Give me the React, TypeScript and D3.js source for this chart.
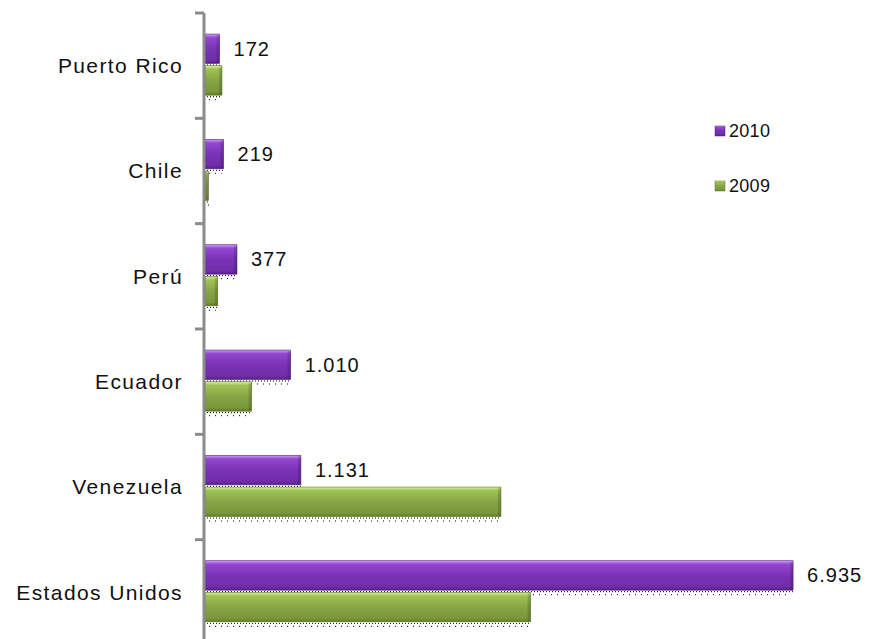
import React from "react";
import * as d3 from "d3";

const categories = ["Puerto Rico", "Chile", "Perú", "Ecuador", "Venezuela", "Estados Unidos"];
const seriesNames = ["2010", "2009"];
const values2010 = [172, 219, 377, 1010, 1131, 6935];
const values2009 = [200, 40, 150, 550, 3490, 3840];

const W = 870;
const H = 639;
const FONT = "'Liberation Sans', Arial, sans-serif";

const locale = d3.formatLocale({ decimal: ",", thousands: ".", grouping: [3], currency: ["", ""] });
const fmt = locale.format(",d");

export default function App() {
  const x = d3.scaleLinear().domain([0, 7000]).range([205, 798.6]);
  const y0 = d3.scaleBand<string>().domain(categories).range([13, 645]).paddingInner(0);
  const inner = d3
    .scaleBand<string>()
    .domain(seriesNames)
    .range([y0.bandwidth() * 0.2, y0.bandwidth() * 0.78])
    .paddingInner(0.07);
  const bh = inner.bandwidth();
  const seriesVals: Record<string, number[]> = { "2010": values2010, "2009": values2009 };
  const grads: Record<string, string> = { "2010": "url(#gPurple)", "2009": "url(#gGreen)" };
  const strokes: Record<string, string> = { "2010": "#55207f", "2009": "#5b7526" };
  const axisX = 204;
  const ticks = [...categories.map((c) => y0(c)!), 645];

  return (
    <svg width={W} height={H} style={{ position: "absolute", left: 0, top: 0, background: "#fff" }}>
      <defs>
        <linearGradient id="gPurple" x1="0" y1="0" x2="0" y2="1">
          <stop offset="0" stopColor="#d49cff" />
          <stop offset="0.12" stopColor="#9447d0" />
          <stop offset="0.5" stopColor="#7a32b6" />
          <stop offset="0.88" stopColor="#6f2ea8" />
          <stop offset="1" stopColor="#56208a" />
        </linearGradient>
        <linearGradient id="gGreen" x1="0" y1="0" x2="0" y2="1">
          <stop offset="0" stopColor="#d6f59a" />
          <stop offset="0.12" stopColor="#9fc255" />
          <stop offset="0.5" stopColor="#86a544" />
          <stop offset="0.88" stopColor="#7a983b" />
          <stop offset="1" stopColor="#5e7a28" />
        </linearGradient>
      </defs>

      {categories.map((c, i) =>
        seriesNames.map((s) => {
          const v = seriesVals[s][i];
          const yy = y0(c)! + inner(s)!;
          const w = x(v) - x(0);
          return (
            <g key={c + s}>
              <line
                x1={x(0) + 2}
                x2={x(v)}
                y1={yy + bh + 1.5}
                y2={yy + bh + 1.5}
                stroke="#000"
                strokeWidth={1}
                strokeDasharray="1,2"
              />
              <line
                x1={x(0) + 4}
                x2={x(v) - 2}
                y1={yy + bh + 4.5}
                y2={yy + bh + 4.5}
                stroke="#000"
                strokeWidth={1}
                strokeDasharray="1,5"
              />
              <rect x={x(0)} y={yy} width={w} height={bh} fill={grads[s]} stroke={strokes[s]} strokeWidth={0.6} />
              <rect x={Math.max(x(0), x(v) - 3)} y={yy + 1} width={Math.min(3, w)} height={bh - 2} fill="#000" opacity={0.15} />
            </g>
          );
        })
      )}

      {categories.map((c, i) => {
        const yy = y0(c)! + inner("2010")! + bh / 2;
        return (
          <text
            key={"v" + c}
            x={x(values2010[i]) + 14}
            y={yy}
            dy="0.35em"
            fontFamily={FONT}
            fontSize={20}
            letterSpacing={1}
            fill="#111"
          >
            {fmt(values2010[i])}
          </text>
        );
      })}

      <line x1={axisX} x2={axisX} y1={13} y2={H} stroke="#8c8c8c" strokeWidth={3} />
      {ticks.map((t, i) => (
        <line key={"t" + i} x1={axisX - 9} x2={axisX} y1={t} y2={t} stroke="#8c8c8c" strokeWidth={3} />
      ))}

      {categories.map((c) => (
        <text
          key={"c" + c}
          x={183}
          y={y0(c)! + y0.bandwidth() / 2}
          dy="0.35em"
          textAnchor="end"
          fontFamily={FONT}
          fontSize={21}
          letterSpacing={1.4}
          fill="#111"
        >
          {c}
        </text>
      ))}

      {seriesNames.map((s, i) => {
        const cy = 131 + i * 55;
        return (
          <g key={"l" + s}>
            <rect x={715} y={cy - 5} width={10} height={10} fill={grads[s]} stroke={strokes[s]} strokeWidth={0.5} />
            <text x={729} y={cy} dy="0.35em" fontFamily={FONT} fontSize={18} letterSpacing={0.3} fill="#111">
              {s}
            </text>
          </g>
        );
      })}
    </svg>
  );
}
